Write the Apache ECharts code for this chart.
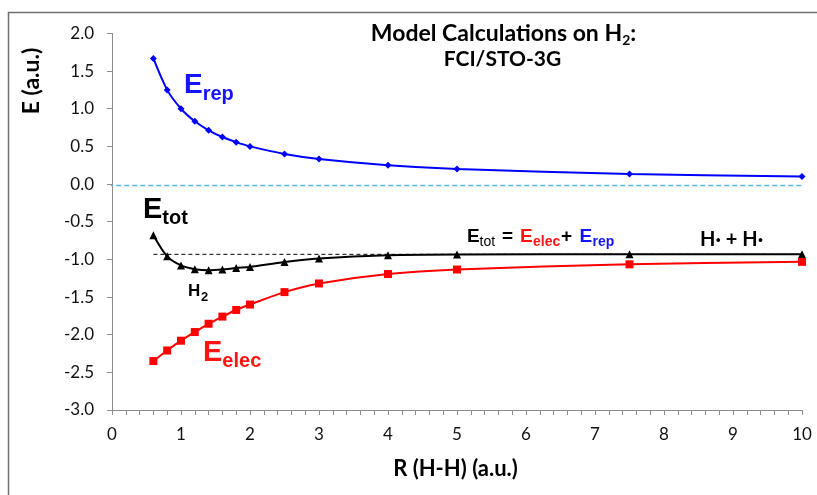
<!DOCTYPE html>
<html><head><meta charset="utf-8">
<script src="https://cdn.jsdelivr.net/npm/echarts@6/dist/echarts.min.js"></script>
<style>html,body{margin:0;padding:0;background:#fff}#c{width:817px;height:495px}</style>
</head><body><div id="c"></div>
<script>
const R = [0.6, 0.8, 1.0, 1.2, 1.4, 1.6, 1.8, 2.0, 2.5, 3.0, 4.0, 5.0, 7.5, 10.0];
const Erep = [1.667, 1.25, 1.0, 0.833, 0.714, 0.625, 0.556, 0.5, 0.4, 0.333, 0.25, 0.2, 0.133, 0.1];
const Etot = [-0.68, -0.96, -1.08, -1.13, -1.145, -1.135, -1.115, -1.10, -1.035, -0.988, -0.945, -0.935, -0.933, -0.933];
const Eelec = [-2.35, -2.21, -2.08, -1.965, -1.855, -1.76, -1.672, -1.60, -1.435, -1.32, -1.195, -1.135, -1.066, -1.033];
const dissocX = [0.6, 10];
const dissocY = [-0.933, -0.933];
const zeroX = [-0.17, 10.1];
const zeroY = [-0.02, -0.02];

const pair = (xs, ys) => xs.map((x, i) => [x, ys[i]]);
const AR = '"Liberation Sans", Arial, sans-serif';
const CAL = 'Lato, "Open Sans", sans-serif';

const mctx = document.createElement('canvas').getContext('2d');
function measure(t, fs, bold, fam) {
  mctx.font = (bold ? 'bold ' : '') + fs + 'px ' + fam;
  return mctx.measureText(t).width;
}
// pieces: {t, fs, bold, fam, color, base, x(optional explicit left)}
function runs(x0, align, pieces) {
  const widths = pieces.map(p => measure(p.t, p.fs, p.bold, p.fam || AR));
  const total = widths.reduce((a, b) => a + b, 0);
  let x = align === 'center' ? x0 - total / 2 : x0;
  return pieces.map((p, i) => {
    const left = (p.x != null) ? p.x : x;
    x = left + widths[i];
    return {
      type: 'text', x: left, y: p.base + 0.2 * p.fs, z: 100, silent: true,
      style: {text: p.t, align: 'left', verticalAlign: 'bottom',
        fontFamily: p.fam || AR, fontWeight: p.bold ? 'bold' : 'normal', fontSize: p.fs, fill: p.color || '#000'}
    };
  });
}

const BLUE = '#1414ff', RED = '#ff1414';
const texts = [].concat(
  runs(503.5, 'center', [
    {t: 'Model Calculations on H', fs: 23, bold: true, fam: CAL, base: 40.7},
    {t: '2', fs: 14, bold: true, fam: CAL, base: 45},
    {t: ':', fs: 23, bold: true, fam: CAL, base: 40.7}
  ]),
  runs(502.5, 'center', [{t: 'FCI/STO-3G', fs: 21, bold: true, fam: CAL, base: 65.5}]),
  runs(184, 'left', [
    {t: 'E', fs: 28, bold: true, color: BLUE, base: 93.5},
    {t: 'rep', fs: 20, bold: true, color: BLUE, base: 100}
  ]),
  runs(143, 'left', [
    {t: 'E', fs: 29, bold: true, color: '#000', base: 218.5},
    {t: 'tot', fs: 20, bold: true, color: '#000', base: 224}
  ]),
  runs(203, 'left', [
    {t: 'E', fs: 29, bold: true, color: RED, base: 362},
    {t: 'elec', fs: 20, bold: true, color: RED, base: 367.5}
  ]),
  runs(188, 'left', [
    {t: 'H', fs: 17, bold: true, color: '#000', base: 296},
    {t: '2', fs: 13, bold: true, color: '#000', base: 301, x: 201}
  ]),
  runs(467, 'left', [
    {t: 'E', fs: 19, bold: true, base: 242},
    {t: 'tot', fs: 14, bold: false, base: 246, x: 479.5},
    {t: '=', fs: 19, bold: true, base: 242, x: 502},
    {t: 'E', fs: 19, bold: true, color: RED, base: 242, x: 520},
    {t: 'elec', fs: 14, bold: true, color: RED, base: 246, x: 533},
    {t: '+', fs: 19, bold: true, base: 242, x: 561},
    {t: 'E', fs: 19, bold: true, color: BLUE, base: 242, x: 579.5},
    {t: 'rep', fs: 14, bold: true, color: BLUE, base: 246, x: 592.5}
  ]),
  runs(700, 'left', [{t: 'H\u00b7 + H\u00b7', fs: 20, bold: true, fam: CAL, base: 246}]),
  runs(455.5, 'center', [{t: 'R (H-H) (a.u.)', fs: 22, bold: true, fam: CAL, base: 476}])
);

const chart = echarts.init(document.getElementById('c'), null, {renderer: 'canvas'});
chart.setOption({
  animation: false,
  backgroundColor: '#fff',
  grid: {left: 112, right: 15, top: 33.4, bottom: 85, containLabel: false},
  xAxis: {
    type: 'value', min: 0, max: 10, interval: 1,
    axisLine: {show: true, onZero: false, lineStyle: {color: '#8c8c8c', width: 1}},
    axisTick: {show: true, length: 5, lineStyle: {color: '#8c8c8c'}},
    minorTick: {show: true, splitNumber: 5, length: 5, lineStyle: {color: '#8c8c8c'}},
    splitLine: {show: false},
    axisLabel: {margin: 16, fontFamily: CAL, fontSize: 17, color: '#111'}
  },
  yAxis: {
    type: 'value', min: -3, max: 2, interval: 0.5,
    axisLine: {show: true, onZero: false, lineStyle: {color: '#8c8c8c', width: 1}},
    axisTick: {show: true, length: 5, lineStyle: {color: '#8c8c8c'}},
    splitLine: {show: false},
    axisLabel: {margin: 18, fontFamily: CAL, fontSize: 17, color: '#111', formatter: v => v.toFixed(1)}
  },
  series: [
    {type: 'line', data: pair(zeroX, zeroY), symbol: 'none', silent: true, clip: false,
     lineStyle: {color: '#5fb6e6', width: 1.5, type: [5, 3]}},
    {type: 'line', data: pair(dissocX, dissocY), symbol: 'none', silent: true,
     lineStyle: {color: '#000', width: 1, type: [4, 3]}},
    {type: 'line', name: 'Erep', data: pair(R, Erep), smooth: 0.3, symbol: 'diamond', symbolSize: 7,
     lineStyle: {color: '#0000ff', width: 2}, itemStyle: {color: '#0000ff'}},
    {type: 'line', name: 'Etot', data: pair(R, Etot), smooth: 0.3, symbol: 'triangle', symbolSize: 8,
     lineStyle: {color: '#000', width: 2}, itemStyle: {color: '#000'}},
    {type: 'line', name: 'Eelec', data: pair(R, Eelec), smooth: 0.3, symbol: 'rect', symbolSize: 8,
     lineStyle: {color: '#ff0000', width: 2}, itemStyle: {color: '#ff0000'}}
  ],
  graphic: [
    {type: 'rect', shape: {x: 8.5, y: 12.5, width: 1000, height: 1000}, silent: true, z: -1,
     style: {fill: null, stroke: '#707070', lineWidth: 1.5}},
    {type: 'text', x: 32, y: 81, rotation: Math.PI / 2, z: 100, silent: true,
     style: {text: 'E (a.u.)', align: 'center', verticalAlign: 'middle',
      fontFamily: CAL, fontWeight: 'bold', fontSize: 23, fill: '#000'}}
  ].concat(texts)
});
</script></body></html>
